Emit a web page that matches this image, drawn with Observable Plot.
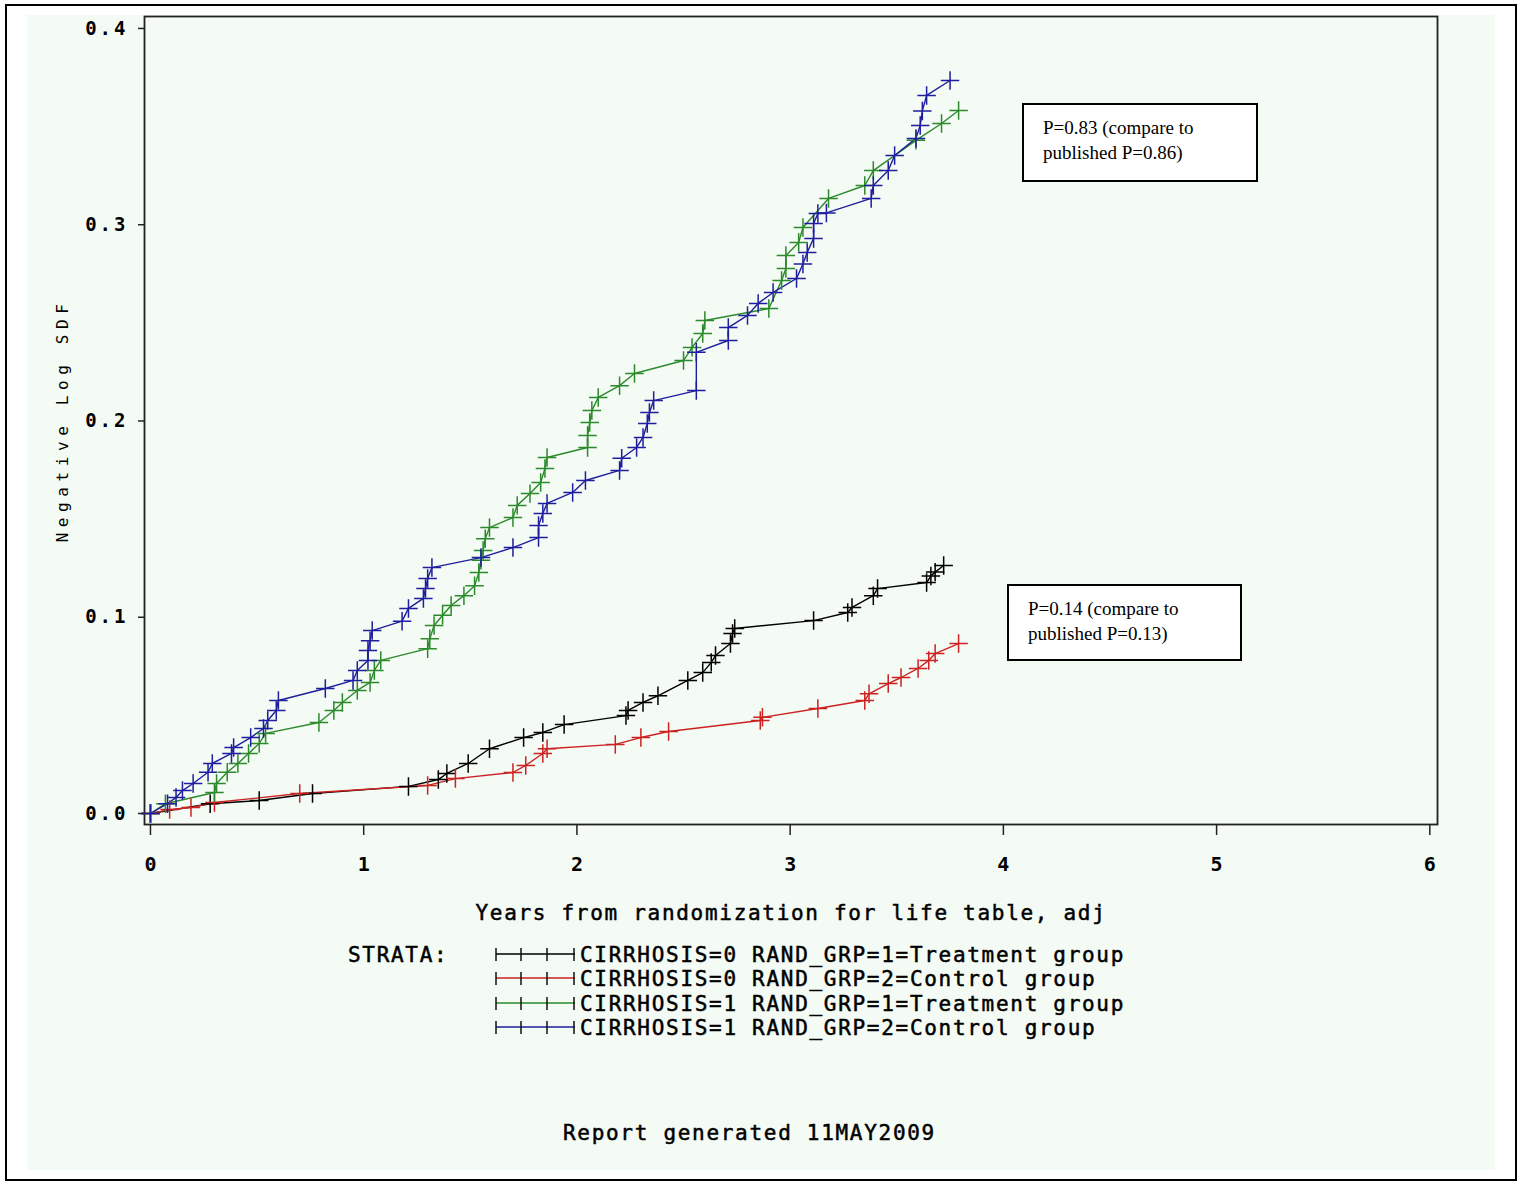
<!DOCTYPE html>
<html>
<head>
<meta charset="utf-8">
<script src="https://cdn.jsdelivr.net/npm/d3@7"></script>
<script src="https://cdn.jsdelivr.net/npm/@observablehq/plot@0.6"></script>
<style>
  html, body { margin: 0; padding: 0; background: #ffffff; }
  body { width: 1521px; height: 1182px; position: relative; overflow: hidden; }
  #border { position: absolute; left: 5px; top: 4px; width: 1508px; height: 1173px; border: 2px solid #000; box-sizing: content-box; }
  #bg { position: absolute; left: 27px; top: 15px; width: 1468px; height: 1155px; background: #f4faf4; }
  #chart { position: absolute; left: 27px; top: 15px; }
  #chart svg text { fill: #000; }
  #chart g[aria-label="x-axis tick label"] text { font-family: "DejaVu Sans Mono", monospace; font-weight: bold; font-size: 20px; }
  #chart g[aria-label="y-axis tick label"] text { font-family: "DejaVu Sans Mono", monospace; font-weight: bold; font-size: 19px; letter-spacing: 3px; }
  #chart g[aria-label="x-axis label"] text { font-family: "DejaVu Sans Mono", monospace; font-size: 21px; letter-spacing: 1.7px; stroke: #000; stroke-width: 0.5px; }
  #chart g[aria-label="y-axis label"] text { font-family: "DejaVu Sans Mono", monospace; font-size: 16px; letter-spacing: 5.6px; }
  .mono { font-family: "DejaVu Sans Mono", monospace; font-size: 21px; letter-spacing: 1.7px; color: #000; position: absolute; white-space: pre; line-height: 24px; -webkit-text-stroke: 0.5px #000; }
  .pbox { position: absolute; background: #fff; border: 2px solid #000; font-family: "Liberation Serif", "Times New Roman", serif; font-size: 19px; line-height: 25px; box-sizing: border-box; padding: 10px 0 0 19px; white-space: pre; color: #000; }
</style>
</head>
<body>
<div id="bg"></div>
<div id="border"></div>
<div id="chart"></div>
<div class="pbox" style="left:1022px; top:103px; width:236px; height:79px;">P=0.83 (compare to
published P=0.86)</div>
<div class="pbox" style="left:1007px; top:584px; width:235px; height:77px;">P=0.14 (compare to
published P=0.13)</div>
<div id="legend"></div>
<div class="mono" style="left:563px; top:1121px;">Report generated 11MAY2009</div>
<script>
// ---- data ----
const seriesNames = [
  "CIRRHOSIS=0 RAND_GRP=1=Treatment group",
  "CIRRHOSIS=0 RAND_GRP=2=Control group",
  "CIRRHOSIS=1 RAND_GRP=1=Treatment group",
  "CIRRHOSIS=1 RAND_GRP=2=Control group"
];
const seriesColors = ["#000000", "#cc2222", "#2b8a2b", "#1e1e9e"];

const c0TreatYears = [0,0.28,0.51,0.76,1.21,1.35,1.39,1.49,1.59,1.75,1.84,1.94,2.23,2.24,2.31,2.38,2.52,2.59,2.63,2.65,2.72,2.73,2.74,3.11,3.27,3.29,3.39,3.41,3.64,3.66,3.68,3.72];
const c0TreatNegLog = [0,0.005,0.0066,0.0102,0.0138,0.0173,0.0204,0.0255,0.033,0.0387,0.0413,0.0453,0.0499,0.0525,0.0566,0.060,0.0678,0.0718,0.077,0.0805,0.0866,0.0917,0.0943,0.0983,0.1024,0.105,0.111,0.1146,0.1177,0.121,0.123,0.1264];

const c0CtrlYears = [0,0.09,0.19,0.30,0.70,1.30,1.43,1.70,1.76,1.84,1.86,2.18,2.30,2.43,2.86,2.87,3.13,3.35,3.37,3.46,3.52,3.60,3.65,3.68,3.79];
const c0CtrlNegLog = [0,0.002,0.003,0.0056,0.0102,0.0143,0.0178,0.0209,0.0245,0.0306,0.033,0.0352,0.0387,0.0418,0.0474,0.049,0.0535,0.0576,0.061,0.0662,0.0693,0.0739,0.078,0.0815,0.0866];

const c1TreatYears = [0,0.07,0.30,0.31,0.36,0.41,0.46,0.51,0.54,0.79,0.86,0.90,0.97,1.03,1.05,1.08,1.30,1.31,1.33,1.37,1.41,1.47,1.52,1.54,1.55,1.56,1.57,1.59,1.70,1.72,1.78,1.83,1.85,1.86,2.05,2.05,2.06,2.07,2.10,2.20,2.27,2.50,2.54,2.59,2.60,2.90,2.96,2.98,2.98,3.04,3.06,3.18,3.35,3.39,3.59,3.71,3.79];
const c1TreatNegLog = [0,0.005,0.0107,0.0153,0.021,0.0255,0.0306,0.0357,0.0408,0.0464,0.0525,0.0566,0.0627,0.0668,0.0729,0.078,0.084,0.089,0.0958,0.101,0.106,0.111,0.116,0.1228,0.129,0.134,0.140,0.1457,0.1508,0.157,0.163,0.1687,0.1758,0.1814,0.1865,0.1926,0.1992,0.2053,0.212,0.218,0.2242,0.2308,0.2375,0.2446,0.2512,0.2573,0.2716,0.2777,0.2843,0.291,0.2986,0.3134,0.320,0.3276,0.343,0.3516,0.3582];

const c1CtrlYears = [0,0.08,0.12,0.15,0.20,0.27,0.29,0.38,0.39,0.47,0.53,0.55,0.59,0.60,0.82,0.95,0.97,1.02,1.02,1.03,1.04,1.18,1.21,1.28,1.29,1.30,1.32,1.55,1.70,1.82,1.82,1.84,1.86,1.98,2.04,2.20,2.21,2.28,2.31,2.33,2.34,2.36,2.56,2.56,2.71,2.71,2.80,2.85,2.92,3.03,3.06,3.08,3.11,3.11,3.13,3.17,3.38,3.39,3.46,3.49,3.59,3.61,3.62,3.64,3.75];
const c1CtrlNegLog = [0,0.005,0.0082,0.0117,0.0153,0.021,0.0255,0.0306,0.0336,0.0387,0.0433,0.0474,0.0525,0.0576,0.0637,0.0678,0.0729,0.078,0.0831,0.088,0.0932,0.098,0.1045,0.1096,0.1147,0.1197,0.1253,0.1304,0.1355,0.1406,0.1467,0.1529,0.158,0.1636,0.1697,0.1748,0.181,0.1865,0.1916,0.1987,0.2043,0.2104,0.2155,0.235,0.241,0.2476,0.2538,0.2599,0.2655,0.2726,0.280,0.2859,0.293,0.3006,0.3057,0.306,0.3134,0.320,0.3276,0.3353,0.344,0.3506,0.358,0.3659,0.3735];

const xTicks = [0, 1, 2, 3, 4, 5, 6];
const yTicks = [0, 0.1, 0.2, 0.3, 0.4];
const xLabel = "Years from randomization for life table, adj";
const yLabel = "Negative Log SDF";
const legendTitle = "STRATA:";

// ---- build table ----
const seriesData = [
  [c0TreatYears, c0TreatNegLog],
  [c0CtrlYears, c0CtrlNegLog],
  [c1TreatYears, c1TreatNegLog],
  [c1CtrlYears, c1CtrlNegLog]
];
const rows = [];
seriesData.forEach(([ts, vs], i) => {
  ts.forEach((t, j) => rows.push({series: seriesNames[i], t, v: vs[j]}));
});

const chart = Plot.plot({
  width: 1468,
  height: 905,
  marginLeft: 117,
  marginTop: 1,
  marginRight: 58,
  marginBottom: 96,
  style: {background: "transparent", fontFamily: "DejaVu Sans Mono", overflow: "visible"},
  x: {domain: [-0.028, 6.036]},
  y: {domain: [-0.0056, 0.4061]},
  color: {domain: seriesNames, range: seriesColors},
  marks: [
    Plot.frame({stroke: "#222", strokeWidth: 1.8}),
    Plot.axisX({ticks: xTicks, tickSize: 11, tickPadding: 21, tickFormat: d => String(d), stroke: "#222", strokeWidth: 1.5,
      label: xLabel, labelAnchor: "center", labelOffset: 95, labelArrow: "none"}),
    Plot.axisY({ticks: yTicks, tickSize: 6, tickPadding: 10, tickFormat: d3.format(".1f"), stroke: "#222", strokeWidth: 1.5,
      label: yLabel, labelAnchor: "center", labelOffset: 88, labelArrow: "none"}),
    Plot.line(rows, {x: "t", y: "v", z: "series", stroke: "series", strokeWidth: 1.4}),
    Plot.dot(rows, {x: "t", y: "v", stroke: "series", symbol: "plus", r: 6, strokeWidth: 1.5})
  ]
});
document.getElementById("chart").appendChild(chart);

// ---- legend ----
const legend = document.getElementById("legend");
const title = document.createElement("div");
title.className = "mono";
title.style.left = "348px";
title.style.top = "943px";
title.textContent = legendTitle;
legend.appendChild(title);
seriesNames.forEach((name, i) => {
  const top = 943 + i * 24.4;
  const sw = d3.create("svg").attr("width", 90).attr("height", 24)
    .style("position", "absolute").style("left", "490px").style("top", top + "px");
  sw.append("line").attr("x1", 6).attr("x2", 85).attr("y1", 11).attr("y2", 11)
    .attr("stroke", seriesColors[i]).attr("stroke-width", 1.5);
  [6, 31, 57, 84].forEach(x => {
    sw.append("line").attr("x1", x).attr("x2", x).attr("y1", 5).attr("y2", 18)
      .attr("stroke", "#111").attr("stroke-width", 1.5);
  });
  legend.appendChild(sw.node());
  const t = document.createElement("div");
  t.className = "mono";
  t.style.left = "580px";
  t.style.top = top + "px";
  t.textContent = name;
  legend.appendChild(t);
});
</script>
</body>
</html>
